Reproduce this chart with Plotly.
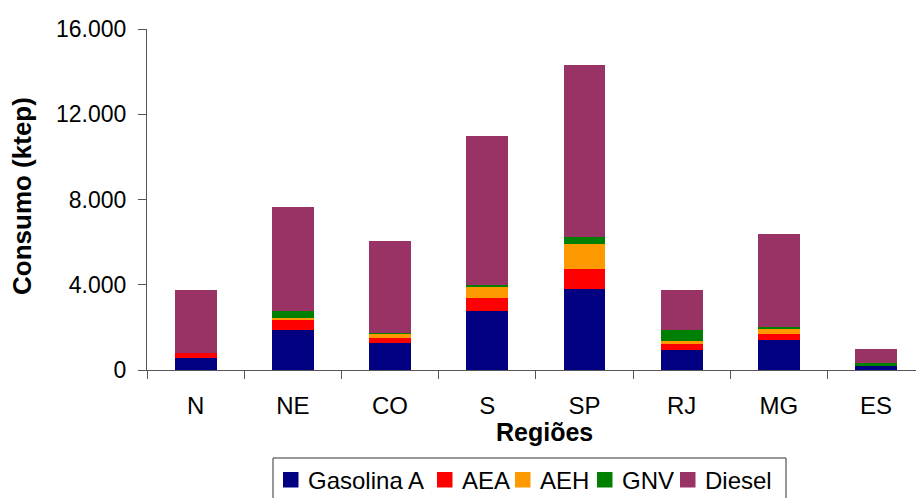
import plotly.graph_objects as go

# Consumo de combustíveis por região (ktep)
regioes = ["N", "NE", "CO", "S", "SP", "RJ", "MG", "ES"]
gasolina_a = [580, 1890, 1250, 2770, 3780, 950, 1420, 200]
aea = [220, 490, 250, 620, 940, 280, 280, 20]
aeh = [0, 75, 220, 490, 1200, 110, 205, 10]
gnv = [0, 315, 20, 120, 315, 545, 95, 85]
diesel = [2950, 4860, 4295, 7000, 8065, 1880, 4390, 655]

series = [
    ("Gasolina A", gasolina_a, "#000080"),
    ("AEA", aea, "#FF0000"),
    ("AEH", aeh, "#FF9900"),
    ("GNV", gnv, "#008000"),
    ("Diesel", diesel, "#993366"),
]

FONT = "Liberation Sans, Arial, Helvetica, sans-serif"
W, H = 916, 498
ML, MR, MT, MB = 147, 0, 29, 128
plot_w = W - ML - MR
plot_h = H - MT - MB
cat_w = 97.2


def px_x(px):
    """Horizontal pixel -> paper coordinate."""
    return (px - ML) / plot_w


def px_y(py):
    """Vertical pixel (from top) -> paper coordinate."""
    return (MT + plot_h - py) / plot_h


fig = go.Figure()
for name, vals, color in series:
    fig.add_trace(go.Bar(
        x=regioes, y=vals, name=name, width=0.43,
        marker=dict(color=color, line=dict(width=0)),
        showlegend=False,
    ))

# Legend box drawn below the plot: swatch + label per series
shapes = [dict(
    type="rect", xref="paper", yref="paper",
    x0=px_x(273), x1=px_x(786), y0=px_y(458), y1=px_y(520),
    line=dict(color="#333333", width=1), fillcolor="white", layer="above",
)]
annotations = []
swatch_left = [283, 437, 515, 597, 680]
for (name, _, color), sx in zip(series, swatch_left):
    shapes.append(dict(
        type="rect", xref="paper", yref="paper",
        x0=px_x(sx), x1=px_x(sx + 15.5), y0=px_y(487.5), y1=px_y(472),
        line=dict(width=0), fillcolor=color, layer="above",
    ))
    annotations.append(dict(
        text=name, xref="paper", yref="paper",
        x=px_x(sx + 22.5), y=px_y(480),
        xanchor="left", yanchor="middle", showarrow=False,
        font=dict(size=24, family=FONT, color="black"),
    ))

annotations += [
    dict(
        text="<b>Regiões</b>", xref="paper", yref="paper",
        x=px_x(544), y=px_y(432),
        xanchor="center", yanchor="middle", showarrow=False,
        font=dict(size=25, family=FONT, color="black"),
    ),
    dict(
        text="<b>Consumo (ktep)</b>", xref="paper", yref="paper",
        x=px_x(22), y=px_y(196),
        xanchor="center", yanchor="middle", showarrow=False,
        textangle=-90,
        font=dict(size=26, family=FONT, color="black"),
    ),
]

fig.update_layout(
    width=W, height=H,
    margin=dict(l=ML, r=MR, t=MT, b=MB, pad=0),
    barmode="stack",
    plot_bgcolor="white", paper_bgcolor="white",
    separators=",.",
    font=dict(family=FONT, color="black"),
    showlegend=False,
    xaxis=dict(
        type="category",
        range=[-0.5, -0.5 + plot_w / cat_w],
        showline=True, linecolor="#555555", linewidth=1,
        ticks="outside", ticklen=8, tickcolor="#555555",
        tickson="boundaries",
        tickfont=dict(size=24, family=FONT),
        ticklabelstandoff=14,
        showgrid=False, zeroline=False,
    ),
    yaxis=dict(
        range=[0, 16000],
        tickvals=[0, 4000, 8000, 12000, 16000],
        tickformat=",.0f",
        showline=True, linecolor="#555555", linewidth=1,
        ticks="outside", ticklen=8, tickcolor="#555555",
        tickfont=dict(size=23, family=FONT),
        showgrid=False, zeroline=False,
        ticklabelstandoff=7,
    ),
    shapes=shapes,
    annotations=annotations,
)

fig.write_html("out.html")
